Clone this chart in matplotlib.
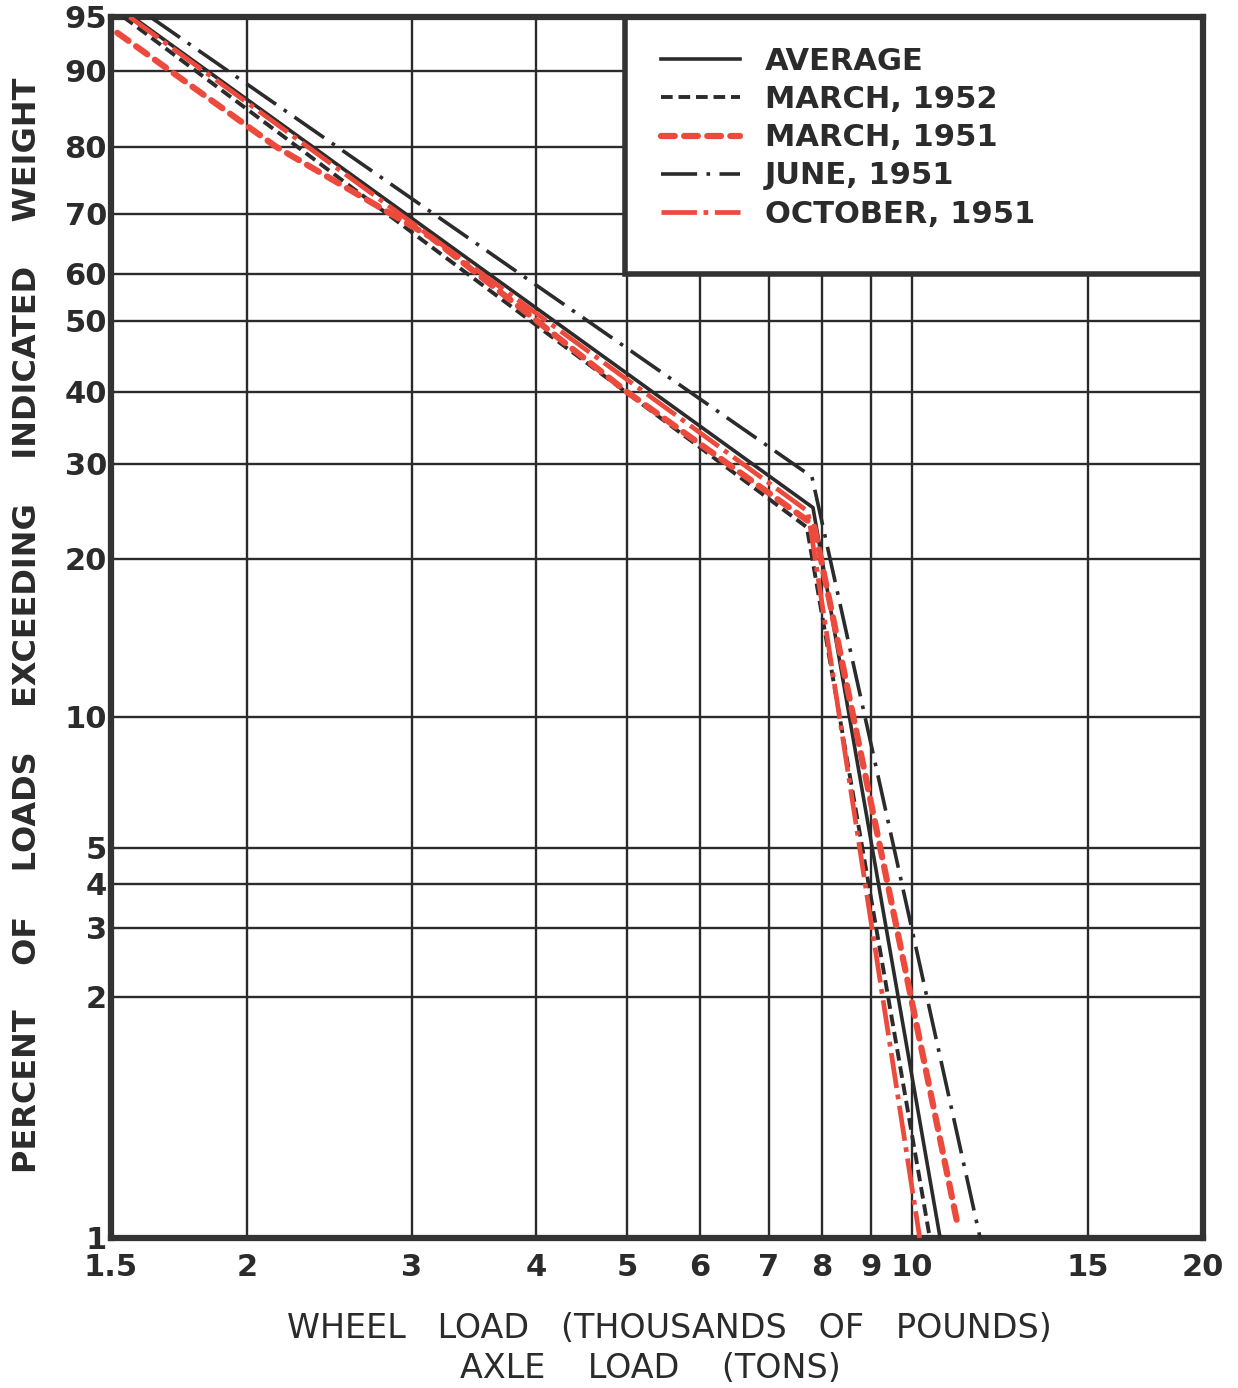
import numpy as np
import matplotlib
matplotlib.use("Agg")
import matplotlib.pyplot as plt
import matplotlib.patches as patches

# tick values printed on the chart paper
x_ticks = [1.5, 2, 3, 4, 5, 6, 7, 8, 9, 10, 15, 20]
x_labels = ["1.5", "2", "3", "4", "5", "6", "7", "8", "9", "10", "15", "20"]
y_ticks = [1, 2, 3, 4, 5, 10, 20, 30, 40, 50, 60, 70, 80, 90, 95]
y_labels = ["1", "2", "3", "4", "5", "10", "20", "30", "40", "50", "60", "70", "80", "90", "95"]

# the paper is hand ruled, so the scale is given by where each ruling sits (0..1 along the axis)
x_rule = [0, 0.1245, 0.2756, 0.3892, 0.4725, 0.5394, 0.6026, 0.6511, 0.6960, 0.7335, 0.8947, 1.0]
y_rule = [0, 0.1974, 0.2539, 0.2899, 0.3194, 0.4267, 0.5561, 0.6339, 0.6929, 0.7510,
          0.7895, 0.8387, 0.8935, 0.9558, 1.0]

# series (wheel load in 1000 lb, percent of loads exceeding)
avg_x = [1.57, 7.82, 10.67]
avg_y = [95, 24.9, 1.0]

mar52_x = [1.54, 7.70, 10.42]
mar52_y = [95, 22.9, 1.0]

mar51_x = [1.52, 2.15, 3.13, 5.0, 7.84, 11.09]
mar51_y = [93.5, 80, 66.0, 40.0, 23.1, 1.05]

june_x = [1.63, 7.80, 11.70]
june_y = [95, 28.4, 1.0]

oct_x = [1.56, 7.72, 10.18]
oct_y = [95, 24.5, 1.0]

BLACK = "#2b2b2b"
RED = "#ec4a3d"


def make_scale(ticks, rule):
    lt = np.log10(ticks)

    def fwd(v):
        v = np.clip(np.asarray(v, dtype=float), 1e-6, None)
        return np.interp(np.log10(v), lt, rule, left=rule[0] - 1, right=rule[-1] + 1)

    def inv(u):
        return 10 ** np.interp(u, rule, lt)

    return fwd, inv


fig = plt.figure(figsize=(12.38, 13.88), dpi=100)
ax = fig.add_axes([0.0897, 0.1081, 0.882, 0.8797])

ax.set_xscale("function", functions=make_scale(x_ticks, x_rule))
ax.set_yscale("function", functions=make_scale(y_ticks, y_rule))
ax.set_xlim(1.5, 20)
ax.set_ylim(1, 95)

ax.set_xticks(x_ticks)
ax.set_xticklabels(x_labels)
ax.set_yticks(y_ticks)
ax.set_yticklabels(y_labels)
ax.minorticks_off()
ax.tick_params(length=0, labelsize=22, colors=BLACK)
ax.tick_params(axis="x", pad=11)
ax.tick_params(axis="y", pad=3)
for lab in ax.get_xticklabels() + ax.get_yticklabels():
    lab.set_fontweight("bold")

ax.grid(True, color=BLACK, linewidth=1.7, zorder=1)
ax.set_axisbelow(True)
for s in ax.spines.values():
    s.set_linewidth(4.5)
    s.set_color("#333333")

# legend box sits over the ruling in the upper right
box = patches.Rectangle((0.4707, y_rule[10]), 1 - 0.4707, 1 - y_rule[10],
                        transform=ax.transAxes, facecolor="white", edgecolor="#333333",
                        linewidth=4, zorder=2)
ax.add_patch(box)

ax.plot(june_x, june_y, color=BLACK, lw=2.6, dashes=(10, 2.6, 1, 2.6), zorder=3,
        label="JUNE, 1951")
ax.plot(mar52_x, mar52_y, color=BLACK, lw=2.8, dashes=(3.0, 1.5), zorder=3,
        label="MARCH, 1952")
ax.plot(avg_x, avg_y, color=BLACK, lw=2.6, zorder=4, label="AVERAGE")
ax.plot(oct_x, oct_y, color=RED, lw=3.4, dashes=(7.5, 1.4, 1, 1.4), zorder=4,
        label="OCTOBER, 1951")
ax.plot(mar51_x, mar51_y, color=RED, lw=4.5, dashes=(2.2, 1.5), dash_capstyle="round",
        zorder=5, label="MARCH, 1951")

handles, labels = ax.get_legend_handles_labels()
order = ["AVERAGE", "MARCH, 1952", "MARCH, 1951", "JUNE, 1951", "OCTOBER, 1951"]
hmap = dict(zip(labels, handles))
leg = ax.legend([hmap[k] for k in order], order, loc="upper left",
                bbox_to_anchor=(0.4895, 0.988), frameon=False, borderpad=0,
                handlelength=2.6, handletextpad=0.8, labelspacing=0.3,
                prop={"size": 22, "weight": "bold"})
leg.set_zorder(6)
for t in leg.get_texts():
    t.set_color(BLACK)

fig.text(0.541, 0.0432, "WHEEL   LOAD   (THOUSANDS   OF   POUNDS)", ha="center", va="center",
         fontsize=24, color=BLACK)
fig.text(0.525, 0.0144, "AXLE    LOAD    (TONS)", ha="center", va="center",
         fontsize=24, color=BLACK)
fig.text(0.0226, 0.5497, "PERCENT    OF    LOADS    EXCEEDING    INDICATED    WEIGHT",
         rotation=90, ha="center", va="center", fontsize=23, fontweight="bold", color=BLACK)

fig.savefig("out.png", dpi=100, facecolor="white")
